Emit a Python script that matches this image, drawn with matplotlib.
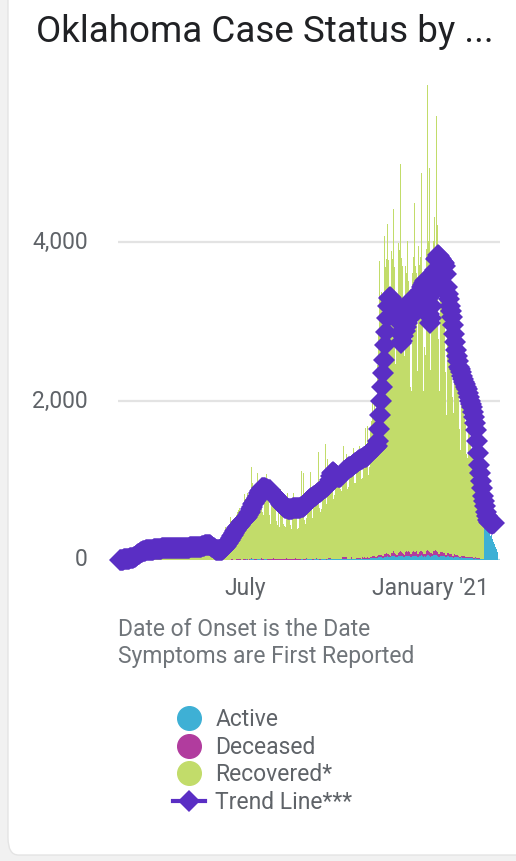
#!/usr/bin/env python3
# -*- coding: utf-8 -*-
"""
Oklahoma case status by date of onset: stacked daily bars
(active / deceased / recovered) with the trend line drawn on top.
Writes out.png (516x861 px).
"""

import pandas as pd
import matplotlib
matplotlib.use("Agg")
import matplotlib.pyplot as plt
import matplotlib.transforms as mtransforms
from matplotlib.lines import Line2D
from matplotlib.patches import FancyBboxPatch

# ---------------------------------------------------------------------------
# Data (daily counts)
# ---------------------------------------------------------------------------
RECOVERED_START = "2020-03-01"
RECOVERED = [
    0, 1, 2, 3, 5, 6, 8,
    10, 14, 20, 28, 35, 45, 40,
    50, 75, 95, 110, 120, 125, 110,
    105, 140, 150, 160, 155, 150, 120,
    115, 160, 165, 160, 155, 150, 115,
    110, 165, 160, 155, 150, 145, 110,
    110, 160, 160, 155, 150, 140, 105,
    110, 165, 160, 155, 150, 145, 110,
    110, 170, 165, 160, 150, 145, 110,
    115, 175, 170, 165, 155, 150, 115,
    120, 180, 175, 170, 290, 160, 120,
    130, 190, 185, 220, 200, 170, 130,
    140, 150, 200, 190, 180, 160, 110,
    90, 120, 130, 140, 150, 140, 110,
    130, 220, 260, 300, 415, 330, 280,
    260, 440, 540, 480, 500, 470, 330,
    340, 560, 600, 620, 640, 610, 420,
    450, 680, 820, 760, 740, 840, 520,
    520, 850, 1145, 960, 900, 880, 640,
    600, 1090, 950, 930, 900, 860, 600,
    560, 900, 880, 1070, 860, 820, 560,
    450, 820, 800, 780, 760, 720, 480,
    430, 700, 400, 880, 700, 680, 450,
    420, 400, 680, 840, 660, 640, 430,
    380, 650, 830, 640, 650, 630, 380,
    400, 700, 720, 1110, 760, 1090, 500,
    450, 500, 780, 800, 1090, 760, 520,
    650, 800, 850, 880, 900, 1345, 640,
    600, 630, 950, 1000, 980, 1450, 700,
    1260, 790, 1000, 1050, 1020, 980, 760,
    800, 1050, 900, 1100, 1120, 1050, 880,
    850, 905, 1400, 1150, 1100, 1300, 880,
    900, 1250, 1200, 1180, 1150, 1385, 950,
    950, 1300, 1280, 1250, 1420, 1350, 1000,
    1000, 1400, 1350, 1635, 1380, 1650, 1050,
    1150, 1635, 1700, 1925, 1800, 1900, 1300,
    1700, 2400, 2800, 3690, 3200, 3300, 2600,
    2700, 4000, 3600, 3700, 4150, 3700, 2900,
    3000, 3800, 3700, 4310, 3600, 2400, 2600,
    2600, 3900, 3800, 4870, 3700, 3600, 2800,
    2500, 3600, 3500, 3910, 3400, 3300, 2100,
    2050, 3500, 3700, 4380, 3600, 3500, 2300,
    3870, 3600, 3700, 4750, 3300, 2050, 2600,
    2500, 3800, 5850, 3900, 4820, 2300, 3400,
    3000, 3900, 4200, 3800, 5470, 4110, 2700,
    2050, 3600, 3500, 3400, 3300, 3250, 2300,
    1760, 3200, 3000, 2900, 2800, 2600, 2000,
    1800, 2500, 2450, 2350, 2250, 2100, 1600,
    1345, 2000, 1950, 1850, 1750, 1680, 1300,
    1250, 1650, 1550, 1450, 1350, 1250, 1000,
    840, 1150, 1050, 980, 900, 840, 700,
    650, 520, 480,
]

# active and deceased are only non-zero from early June on
SMALL_START = "2020-06-07"
ACTIVE = [
    2, 3, 3, 4, 4, 3, 2,
    3, 4, 4, 5, 5, 4, 3,
    3, 5, 5, 6, 6, 5, 4,
    4, 6, 6, 6, 7, 6, 4,
    5, 7, 7, 8, 7, 6, 5,
    5, 7, 7, 7, 7, 6, 5,
    5, 7, 7, 7, 6, 6, 5,
    5, 6, 6, 6, 6, 5, 5,
    5, 6, 6, 6, 6, 5, 4,
    4, 6, 6, 6, 6, 5, 4,
    4, 6, 6, 6, 6, 5, 4,
    4, 6, 6, 7, 7, 6, 5,
    5, 7, 7, 7, 8, 7, 5,
    5, 8, 8, 8, 8, 8, 6,
    6, 8, 8, 9, 9, 9, 6,
    7, 9, 9, 10, 10, 9, 7,
    7, 10, 10, 10, 11, 10, 8,
    8, 10, 11, 11, 11, 11, 8,
    8, 11, 12, 12, 12, 12, 9,
    9, 12, 12, 13, 13, 12, 10,
    10, 13, 14, 15, 15, 15, 12,
    14, 20, 22, 24, 25, 25, 20,
    22, 30, 32, 35, 36, 35, 28,
    30, 40, 42, 44, 45, 44, 36,
    34, 45, 46, 48, 48, 40, 36,
    36, 48, 50, 52, 50, 48, 40,
    38, 50, 52, 54, 52, 50, 40,
    40, 52, 54, 56, 55, 52, 42,
    44, 55, 56, 58, 55, 42, 45,
    42, 56, 60, 58, 56, 44, 48,
    46, 58, 60, 58, 60, 56, 44,
    40, 55, 54, 52, 50, 48, 38,
    34, 48, 46, 44, 42, 40, 32,
    30, 40, 38, 36, 34, 32, 26,
    24, 32, 30, 28, 27, 26, 22,
    20, 26, 25, 24, 22, 20, 18,
    16, 20, 18, 16, 15, 14, 12,
    12, 12, 10, 420, 410, 400, 380,
    360, 340, 300, 320, 260, 230, 200,
    160, 140, 100,
]
DECEASED = [
    1, 2, 2, 2, 2, 2, 1,
    2, 2, 2, 3, 2, 2, 2,
    2, 3, 3, 3, 3, 2, 2,
    2, 3, 3, 3, 3, 3, 2,
    3, 3, 20, 3, 3, 3, 2,
    3, 3, 3, 3, 3, 20, 3,
    3, 3, 3, 3, 3, 3, 3,
    3, 3, 3, 20, 3, 3, 3,
    3, 3, 3, 3, 3, 3, 3,
    3, 3, 20, 3, 3, 3, 3,
    3, 3, 3, 3, 20, 3, 3,
    3, 4, 4, 4, 4, 4, 3,
    3, 20, 4, 4, 4, 4, 3,
    4, 4, 4, 20, 4, 4, 4,
    4, 4, 4, 4, 4, 4, 4,
    4, 20, 22, 20, 5, 5, 4,
    5, 5, 5, 5, 5, 5, 5,
    5, 22, 22, 22, 22, 22, 6,
    6, 6, 6, 22, 6, 6, 6,
    6, 7, 7, 7, 7, 7, 6,
    22, 7, 24, 8, 8, 24, 7,
    10, 20, 22, 24, 25, 24, 18,
    15, 25, 28, 30, 32, 30, 22,
    20, 35, 38, 40, 36, 35, 25,
    22, 40, 45, 60, 42, 30, 28,
    25, 45, 50, 55, 48, 44, 30,
    28, 50, 55, 48, 60, 45, 32,
    30, 52, 56, 50, 48, 62, 35,
    34, 50, 58, 55, 48, 38, 36,
    32, 55, 60, 52, 50, 40, 38,
    35, 55, 58, 62, 56, 50, 36,
    30, 48, 46, 50, 44, 42, 30,
    26, 40, 38, 36, 34, 32, 24,
    22, 32, 30, 28, 26, 24, 18,
    18, 24, 22, 20, 20, 18, 14,
    14, 18, 16, 15, 14, 12, 10,
    10, 12, 10, 9, 8, 8, 6,
    6, 5, 4, 0, 0, 0, 0,
    0, 0, 0, 0, 0, 0, 0,
    0, 0, 0,
]

TREND_START = "2020-02-27"
TREND = [
    0, 2, 4, 6, 8, 10, 12,
    14, 16, 18, 20, 22, 24, 25,
    32, 40, 50, 60, 70, 80, 88,
    95, 102, 108, 112, 116, 120, 122,
    124, 125, 126, 128, 130, 132, 134,
    136, 138, 140, 141, 142, 143, 144,
    145, 146, 147, 148, 149, 150, 150,
    150, 150, 150, 150, 150, 150, 150,
    150, 148, 146, 145, 146, 148, 150,
    150, 150, 152, 154, 155, 156, 157,
    158, 158, 159, 160, 160, 161, 162,
    163, 164, 165, 166, 168, 172, 178,
    182, 186, 188, 190, 192, 190, 185,
    175, 160, 148, 138, 130, 126, 125,
    125, 126, 128, 132, 140, 150, 165,
    180, 200, 215, 235, 255, 275, 300,
    320, 340, 360, 380, 400, 415, 430,
    445, 460, 475, 490, 505, 520, 530,
    540, 560, 585, 610, 640, 670, 700,
    720, 740, 755, 780, 810, 840, 865,
    885, 900, 905, 905, 900, 895, 890,
    885, 880, 875, 860, 845, 830, 815,
    800, 790, 780, 765, 745, 725, 705,
    690, 675, 665, 655, 650, 648, 646,
    645, 644, 645, 646, 648, 650, 650,
    650, 650, 652, 655, 660, 665, 668,
    670, 680, 695, 710, 725, 740, 755,
    765, 775, 785, 790, 800, 810, 820,
    830, 840, 850, 860, 870, 880, 890,
    900, 910, 918, 925, 940, 970, 1010,
    1060, 1100, 1110, 1100, 1085, 1070, 1060,
    1050, 1045, 1045, 1060, 1080, 1100, 1115,
    1125, 1135, 1145, 1155, 1165, 1170, 1175,
    1185, 1195, 1205, 1215, 1225, 1235, 1245,
    1255, 1260, 1265, 1275, 1285, 1290, 1295,
    1300, 1310, 1325, 1340, 1355, 1370, 1385,
    1395, 1405, 1415, 1420, 1440, 1500, 1650,
    1820, 2000, 2180, 2350, 2520, 2700, 2870,
    3050, 3200, 3300, 3310, 3290, 3270, 3250,
    3230, 3200, 3180, 3160, 3145, 3000, 2850,
    2730, 2760, 2820, 2880, 2930, 2980, 3050,
    3120, 3200, 3270, 3250, 3200, 3150, 3110,
    3150, 3200, 3260, 3320, 3370, 3400, 3430,
    3460, 3490, 3510, 3520, 3500, 3300, 3100,
    2980, 3050, 3200, 3360, 3500, 3650, 3780,
    3800, 3840, 3820, 3800, 3780, 3760, 3745,
    3735, 3700, 3600, 3435, 3350, 3280, 3200,
    3130, 3060, 2950, 2840, 2740, 2640, 2560,
    2500, 2430, 2400, 2360, 2320, 2280, 2240,
    2210, 2180, 2150, 2100, 2050, 2000, 1960,
    1925, 1860, 1800, 1720, 1640, 1500, 1350,
    1200, 1100, 1000, 900, 810, 740, 680,
    610, 550, 500, 480, 470, 460, 455,
    460, 465,
]

TITLE = "Oklahoma Case Status by ..."
NOTE_LINES = ["Date of Onset is the Date", "Symptoms are First Reported"]
LEGEND_LABELS = ["Active", "Deceased", "Recovered*", "Trend Line***"]
Y_TICKS = [0, 2000, 4000]
X_TICKS = ["2020-07-01", "2021-01-01"]
X_TICK_LABELS = ["July", "January '21"]
X_RANGE = ["2020-02-25", "2021-03-11"]
Y_MAX = 6000

C_ACTIVE = "#3eb0d5"
C_DECEASED = "#b13c9e"
C_RECOVERED = "#c2dc6a"
C_TREND = "#5a2ec4"
C_TEXT = "#5f6368"
C_NOTE = "#70757a"

W, H, DPI = 516, 861, 100
FS = 16.5  # body text size


def px(x, y):
    """pixel position (from top-left) -> figure fraction"""
    return x / W, 1 - y / H


def main():
    plt.rcParams["font.family"] = ["Roboto", "DejaVu Sans"]

    fig = plt.figure(figsize=(W / DPI, H / DPI), dpi=DPI)
    fig.patch.set_facecolor("#f1f1f1")

    # white card behind everything
    card = FancyBboxPatch((8 / W, 6 / H), 1.2, 1.2, boxstyle="round,pad=0,rounding_size=0.02",
                          transform=fig.transFigure, facecolor="white",
                          edgecolor="#e4e4e4", linewidth=1.0, zorder=-10)
    fig.patches.append(card)

    # axes box: x 118..500, baseline at y=560, 6000 at y=83
    x0, y0 = px(118, 560)
    x1, y1 = px(500, 83)
    ax = fig.add_axes([x0, y0, x1 - x0, y1 - y0])
    ax.set_facecolor("none")
    ax.set_zorder(2)

    # --- series ---
    rec = pd.Series(RECOVERED, index=pd.date_range(RECOVERED_START, periods=len(RECOVERED), freq="D"))
    small_idx = pd.date_range(SMALL_START, periods=len(ACTIVE), freq="D")
    act = pd.Series(ACTIVE, index=small_idx)
    dec = pd.Series(DECEASED, index=small_idx)
    idx = rec.index.union(small_idx)
    rec, act, dec = [s.reindex(idx, fill_value=0) for s in (rec, act, dec)]

    ax.bar(idx, act, width=1.0, color=C_ACTIVE, linewidth=0, zorder=2)
    ax.bar(idx, dec, width=1.0, bottom=act, color=C_DECEASED, linewidth=0, zorder=2)
    ax.bar(idx, rec, width=1.0, bottom=act + dec, color=C_RECOVERED, linewidth=0, zorder=2)

    t_idx = pd.date_range(TREND_START, periods=len(TREND), freq="D")
    ax.plot(t_idx, TREND, color=C_TREND, linewidth=4, marker="D", markersize=11.5,
            markeredgewidth=0, clip_on=False, zorder=5)

    # --- axes styling ---
    ax.set_xlim(pd.Timestamp(X_RANGE[0]), pd.Timestamp(X_RANGE[1]))
    ax.set_ylim(0, Y_MAX)
    for s in ax.spines.values():
        s.set_visible(False)
    for v in Y_TICKS[1:]:
        ax.axhline(v, color="#e3e3e3", linewidth=1.6, zorder=1)
    ax.axhline(0, color="#a9d7ea", linewidth=1.6, zorder=1)

    # y labels drawn right-aligned 30 px left of the plot area
    ax.set_yticks(Y_TICKS)
    ax.set_yticklabels([])
    ax.tick_params(axis="y", length=0)
    ylab_tr = mtransforms.blended_transform_factory(ax.transAxes, ax.transData) + \
        mtransforms.ScaledTranslation(-30 / DPI, 0, fig.dpi_scale_trans)
    for v in Y_TICKS:
        ax.text(0, v, f"{v:,.0f}", transform=ylab_tr, ha="right", va="center",
                fontsize=FS, color=C_TEXT)

    ax.set_xticks([pd.Timestamp(d) for d in X_TICKS])
    ax.set_xticklabels(X_TICK_LABELS)
    ax.tick_params(axis="x", length=0, pad=12, labelsize=FS, labelcolor=C_TEXT)

    # --- texts ---
    fig.text(*px(36, 32), TITLE, fontsize=26.5, color="#202124", va="center", ha="left")
    for i, line in enumerate(NOTE_LINES):
        fig.text(*px(118, 629 + 28 * i), line, fontsize=FS, color=C_NOTE,
                 va="center", ha="left")

    # --- legend ---
    handles = [
        Line2D([], [], linestyle="none", marker="o", markersize=17, color=C_ACTIVE),
        Line2D([], [], linestyle="none", marker="o", markersize=17, color=C_DECEASED),
        Line2D([], [], linestyle="none", marker="o", markersize=17, color=C_RECOVERED),
        Line2D([], [], color=C_TREND, linewidth=3, marker="D", markersize=11,
               markeredgewidth=0),
    ]
    leg = fig.legend(handles, LEGEND_LABELS, loc="upper left", bbox_to_anchor=px(173, 708),
                     frameon=False, fontsize=FS, labelspacing=0.2, handlelength=1.4,
                     handletextpad=0.45, borderaxespad=0, borderpad=0)
    for t in leg.get_texts():
        t.set_color(C_TEXT)

    fig.savefig("out.png", dpi=DPI, facecolor=fig.get_facecolor())
    plt.close(fig)


if __name__ == "__main__":
    main()
